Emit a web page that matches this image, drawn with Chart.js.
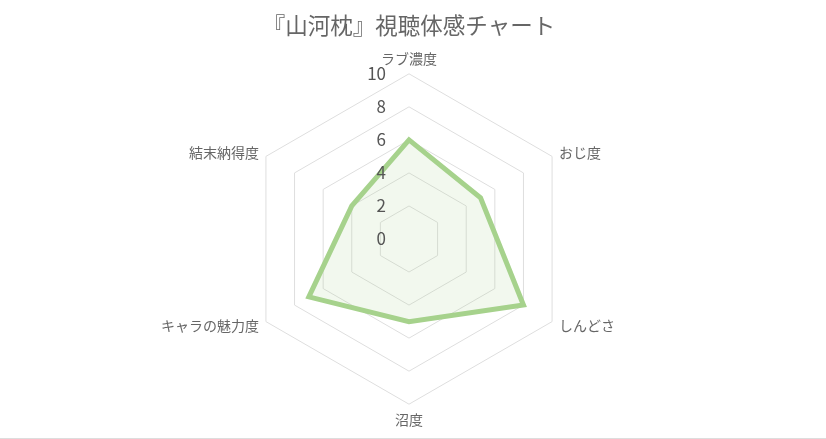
<!DOCTYPE html>
<html lang="ja">
<head>
<meta charset="utf-8">
<script src="https://cdn.jsdelivr.net/npm/chart.js@4"></script>
<style>
    html, body { margin: 0; padding: 0; background: #fff; }
    .wrap { width: 826px; height: 438px; border-bottom: 1px solid #ddd; }
</style>
</head>
<body>
<div class="wrap"><canvas id="radarChart" width="826" height="438"></canvas></div>
<script>
const categories = ['ラブ濃度', 'おじ度', 'しんどさ', '沼度', 'キャラの魅力度', '結末納得度'];
const scores = [6, 5, 8, 5, 7, 4];
const tickValues = [0, 2, 4, 6, 8, 10];

const fontFamily = '"Noto Sans CJK JP", "Noto Sans", sans-serif';
const labelPadding = 8;

// Tick numbers sit to the left of the vertical axis, like the original
const tickLabelPlugin = {
    id: 'tickLabels',
    afterDatasetsDraw(chart) {
        const scale = chart.scales.r;
        const ctx = chart.ctx;
        ctx.save();
        ctx.font = '17px ' + fontFamily;
        ctx.fillStyle = '#555';
        ctx.textAlign = 'right';
        ctx.textBaseline = 'middle';
        tickValues.forEach(v => {
            const d = scale.getDistanceFromCenterForValue(v);
            ctx.fillText(String(v), scale.xCenter - 23, scale.yCenter - d);
        });
        ctx.restore();
    }
};

// Point labels: side labels are vertically centred on their anchor point
const pointLabelPlugin = {
    id: 'pointLabelsCentered',
    afterDraw(chart) {
        const scale = chart.scales.r;
        const ctx = chart.ctx;
        ctx.save();
        ctx.font = '14px ' + fontFamily;
        ctx.fillStyle = '#666';
        categories.forEach((name, i) => {
            const pos = scale.getPointPosition(i, scale.drawingArea + labelPadding);
            const dx = pos.x - scale.xCenter;
            const dy = pos.y - scale.yCenter;
            if (Math.abs(dx) < 1) {
                ctx.textAlign = 'center';
                ctx.textBaseline = dy < 0 ? 'bottom' : 'top';
            } else {
                ctx.textAlign = dx > 0 ? 'left' : 'right';
                ctx.textBaseline = 'middle';
            }
            ctx.fillText(name, pos.x, pos.y);
        });
        ctx.restore();
    }
};

document.addEventListener('DOMContentLoaded', () => {
    const canvas = document.getElementById('radarChart');

    new Chart(canvas, {
        type: 'radar',
        data: {
            labels: categories,
            datasets: [{
                label: '視聴体感',
                data: scores,
                borderColor: '#a6d28c',
                backgroundColor: 'rgba(166, 210, 140, 0.15)',
                borderWidth: 5,
                pointRadius: 0,
                fill: true
            }]
        },
        options: {
            responsive: false,
            animation: false,
            layout: {
                padding: { top: 4, bottom: 8, left: 0, right: 8 }
            },
            plugins: {
                legend: { display: false },
                tooltip: { enabled: false },
                title: {
                    display: true,
                    text: '『山河枕』視聴体感チャート',
                    color: '#666',
                    font: { size: 22.5, weight: 'normal', family: fontFamily },
                    padding: { top: 8, bottom: 10 }
                }
            },
            scales: {
                r: {
                    min: 0,
                    max: 10,
                    ticks: { display: false, stepSize: 2 },
                    angleLines: { display: false },
                    grid: { color: '#dedede', lineWidth: 1 },
                    pointLabels: {
                        // kept for layout only; drawn by pointLabelPlugin
                        color: 'rgba(0, 0, 0, 0)',
                        padding: labelPadding,
                        font: { size: 14, family: fontFamily }
                    }
                }
            }
        },
        plugins: [tickLabelPlugin, pointLabelPlugin]
    });
});
</script>
</body>
</html>
